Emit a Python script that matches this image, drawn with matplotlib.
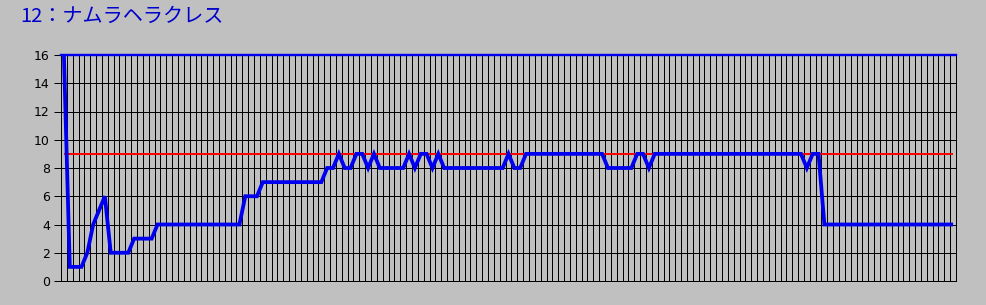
import matplotlib
matplotlib.use("Agg")
import matplotlib.pyplot as plt
import numpy as np

title_text = "12：ナムラヘラクレス"

position = [16, 1, 1, 1, 2, 4, 5, 6, 2, 2, 2, 2, 3, 3, 3, 3,
            4, 4, 4, 4, 4, 4, 4, 4, 4, 4, 4, 4, 4, 4, 4,
            6, 6, 6,
            7, 7, 7, 7, 7, 7, 7, 7, 7, 7, 7,
            8, 8, 9, 8, 8, 9, 9, 8, 9, 8, 8, 8, 8, 8, 9, 8, 9, 9, 8, 9,
            8, 8, 8, 8, 8, 8, 8, 8, 8, 8, 8,
            9, 8, 8,
            9, 9, 9, 9, 9, 9, 9, 9, 9, 9, 9, 9, 9, 9,
            8, 8, 8, 8, 8,
            9, 9, 8,
            9, 9, 9, 9, 9, 9, 9, 9, 9, 9, 9, 9, 9, 9, 9, 9, 9, 9, 9, 9, 9, 9, 9, 9, 9, 9,
            8, 9, 9,
            4, 4, 4, 4, 4, 4, 4, 4, 4, 4, 4, 4, 4, 4, 4, 4, 4, 4, 4, 4, 4, 4, 4]
reference_level = [9] * len(position)
y_ticks = [0, 2, 4, 6, 8, 10, 12, 14, 16]

bg = "#C0C0C0"
W, H = 987, 305
PX = 0.72  # one pixel in points
fig = plt.figure(figsize=(W / 100, H / 100), dpi=100, facecolor=bg)
ax = fig.add_axes([61 / W, 1 - 281 / H, (956 - 61) / W, (281 - 55) / H])
ax.set_facecolor(bg)

n = len(position)
xs = np.arange(n)
ax.set_xlim(-0.5, n - 0.5)
ax.set_ylim(0, 16)

# gridlines
for k in range(n + 1):
    ax.axvline(k - 0.5, color="black", lw=PX, antialiased=False, zorder=1)
for t in y_ticks:
    ax.axhline(t, color="black", lw=PX, antialiased=False, zorder=1)

ax.plot(xs, reference_level, color="#FF0000", lw=2 * PX, solid_capstyle="butt",
        antialiased=False, zorder=3)
ax.plot(xs, position, color="#0000EE", lw=3.8 * PX, solid_joinstyle="miter",
        solid_capstyle="butt", zorder=4)

ax.set_xticks([])
ax.set_yticks(y_ticks)
ax.set_yticklabels([str(t) for t in y_ticks], fontsize=9, family="DejaVu Sans", color="black")
ax.tick_params(axis="y", length=5, width=PX, pad=3, color="black")

for side in ["left", "right", "bottom"]:
    ax.spines[side].set_color("black")
    ax.spines[side].set_linewidth(PX)
ax.spines["top"].set_color("#0000EE")
ax.spines["top"].set_linewidth(2.4 * PX)
ax.spines["top"].set_zorder(5)

fig.text(20 / W, 1 - 16 / H, title_text, fontsize=14.5, color="#0000CC",
         family=["Noto Sans CJK JP", "DejaVu Sans"], va="center", ha="left")

fig.savefig("out.png", dpi=100, facecolor=bg)
